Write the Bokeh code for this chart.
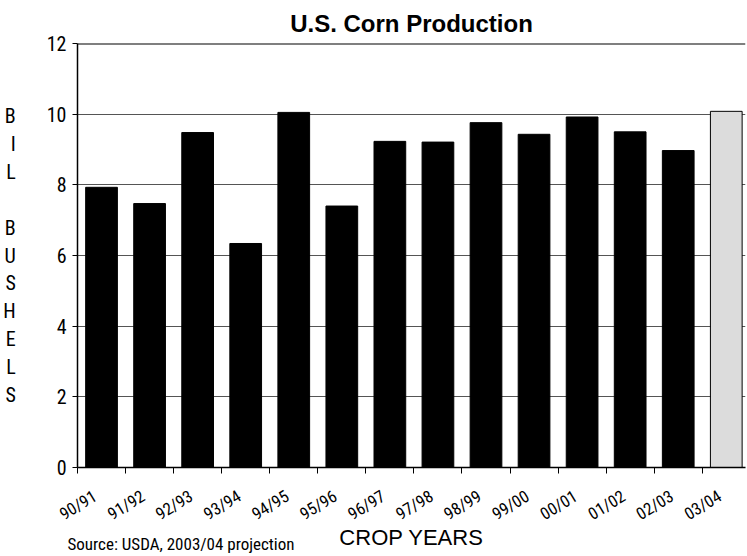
from bokeh.plotting import figure
from bokeh.models import (Range1d, FixedTicker, CustomJSTickFormatter, Span, Title,
                          ColumnDataSource)
from bokeh.embed import file_html
from bokeh.resources import INLINE

# ---- data ----
YEARS = ["90/91", "91/92", "92/93", "93/94", "94/95", "95/96", "96/97",
         "97/98", "98/99", "99/00", "00/01", "01/02", "02/03", "03/04"]
PRODUCTION = [7.93, 7.47, 9.48, 6.34, 10.05, 7.40, 9.23,
              9.21, 9.76, 9.43, 9.92, 9.50, 8.97, 10.08]
PROJECTED = [False] * 13 + [True]
Y_TICKS = [0, 2, 4, 6, 8, 10, 12]
TITLE = "U.S. Corn Production"
Y_LABEL = "B\nI\nL\n\nB\nU\nS\nH\nE\nL\nS"
X_TITLE = "CROP YEARS"
SOURCE = "Source: USDA, 2003/04 projection"

NARROW = "'Liberation Sans Narrow', 'Arial Narrow', 'Roboto Condensed', sans-serif"
REG = "'Liberation Sans', Arial, sans-serif"

centers = [i + 0.5 for i in range(len(YEARS))]
label_pos = [i + 0.365 for i in range(len(YEARS))]   # rotated-label anchor
bounds = list(range(len(YEARS) + 1))
colors = ["#dcdcdc" if p else "black" for p in PROJECTED]
src = ColumnDataSource(dict(x=centers, top=PRODUCTION, color=colors, year=YEARS))

p = figure(width=747, height=556, output_backend="svg", toolbar_location=None,
           x_range=Range1d(0, 13.9), y_range=Range1d(Y_TICKS[0], Y_TICKS[-1]),
           min_border_left=77, min_border_right=2, min_border_top=43,
           min_border_bottom=89)
p.outline_line_color = None
p.background_fill_color = "white"
p.border_fill_color = "white"

# title
p.title.text = TITLE
p.title.align = "center"
p.title.vertical_align = "top"
p.title.text_font = REG
p.title.text_font_style = "bold"
p.title.text_font_size = "24px"
p.title.text_color = "black"
p.title.standoff = 10

p.vbar(x="x", top="top", width=0.66, fill_color="color", line_color="black",
       line_width=1, source=src)

# top border
p.add_layout(Span(location=Y_TICKS[-1], dimension="width", line_color="black",
                  line_width=2))

# y axis
ya = p.yaxis[0]
ya.ticker = FixedTicker(ticks=Y_TICKS)
ya.major_tick_out = 5
ya.major_tick_in = 0
ya.minor_tick_out = 0
ya.minor_tick_in = 0
ya.axis_line_color = "black"
ya.axis_line_width = 1.5
ya.major_tick_line_color = "black"
ya.major_label_text_font = NARROW
ya.major_label_text_font_size = "20px"
ya.major_label_text_color = "black"
ya.major_label_standoff = 6
ya.axis_label = Y_LABEL
ya.axis_label_orientation = "horizontal"
ya.axis_label_text_font = NARROW
ya.axis_label_text_font_style = "normal"
ya.axis_label_text_font_size = "20px"
ya.axis_label_text_line_height = 1.16
ya.axis_label_text_color = "black"
ya.axis_label_standoff = 28

# x axis
xa = p.xaxis[0]
xa.ticker = FixedTicker(ticks=label_pos, minor_ticks=bounds)
xa.formatter = CustomJSTickFormatter(args=dict(labels=YEARS),
                                     code="return labels[Math.floor(tick)];")
xa.major_tick_out = 0
xa.major_tick_in = 0
xa.minor_tick_out = 6
xa.minor_tick_in = 0
xa.minor_tick_line_color = "black"
xa.axis_line_color = "black"
xa.axis_line_width = 1.5
xa.major_label_orientation = 0.55
xa.major_label_text_font = NARROW
xa.major_label_text_font_size = "17px"
xa.major_label_text_color = "black"
xa.major_label_standoff = 21
xa.axis_label = X_TITLE
xa.axis_label_text_font = REG
xa.axis_label_text_font_style = "normal"
xa.axis_label_text_font_size = "22px"
xa.axis_label_text_color = "black"
xa.axis_label_standoff = -10

p.xgrid.grid_line_color = None
p.ygrid.ticker = FixedTicker(ticks=Y_TICKS[1:-1])
p.ygrid.grid_line_color = "#555555"
p.ygrid.grid_line_width = 1

p.add_layout(Title(text=SOURCE, align="left", offset=-10, standoff=-40,
                   vertical_align="top", text_font=NARROW,
                   text_font_style="normal", text_font_size="17px",
                   text_color="black"), "below")

open("out.html", "w").write(file_html(p, INLINE))
